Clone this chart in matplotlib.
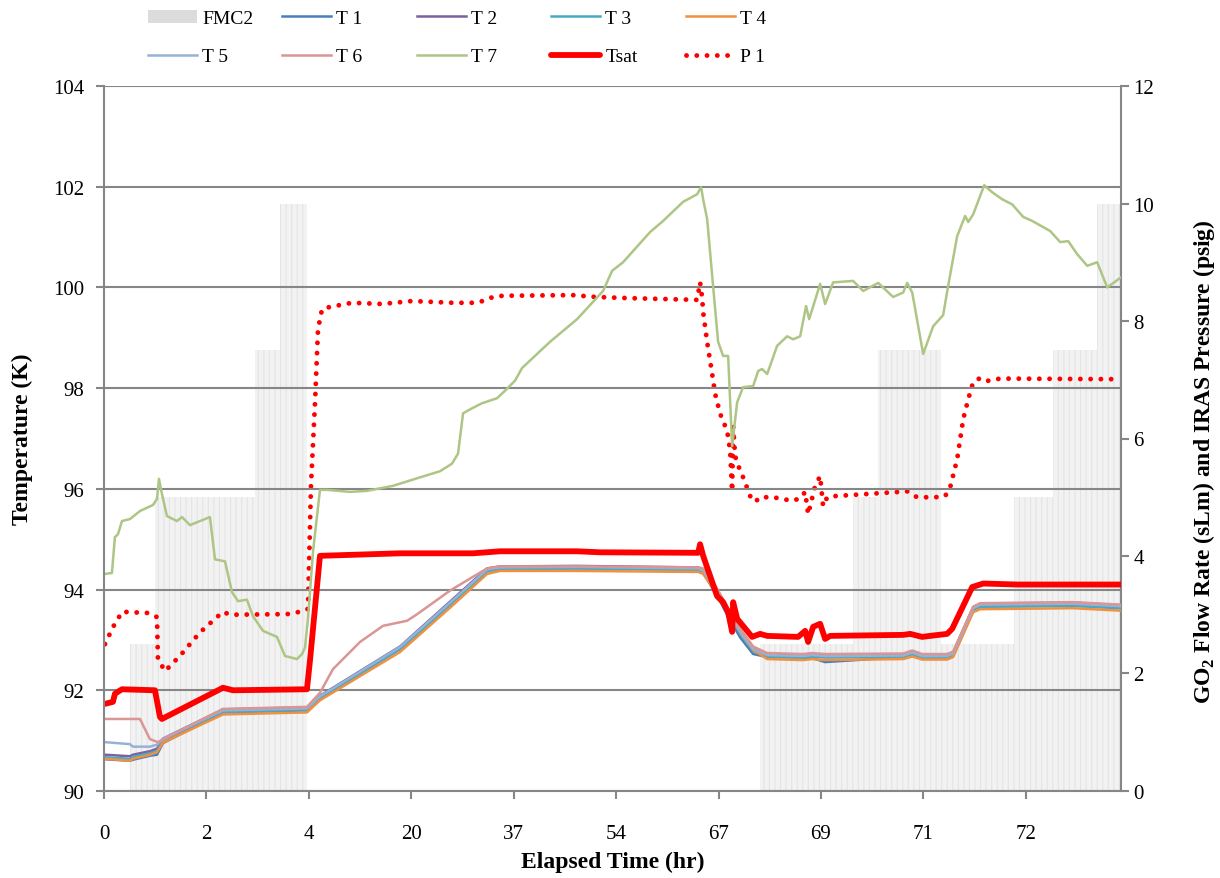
import matplotlib
matplotlib.use('Agg')
import matplotlib.pyplot as plt
from matplotlib.patches import Patch

plt.rcParams['font.family'] = ['Liberation Serif', 'DejaVu Serif']
plt.rcParams['mathtext.fontset'] = 'custom'
plt.rcParams['mathtext.rm'] = 'Liberation Serif'
plt.rcParams['mathtext.bf'] = 'Liberation Serif:bold'
plt.rcParams['hatch.linewidth'] = 0.8
plt.rcParams['hatch.color'] = '#e4e4e4'
plt.rcParams['xtick.major.pad'] = 18
plt.rcParams['ytick.major.pad'] = 8

# category axis: one unit per labelled row
tick_labels = ['0', '2', '4', '20', '37', '54', '67', '69', '71', '72']

# FMC2 flow steps (sLm)
fmc_start = [0.254, 0.498, 1.475, 1.719, 6.406, 7.314, 7.559, 8.174, 8.887, 9.268, 9.697]
fmc_end = [0.498, 1.475, 1.719, 1.982, 7.314, 7.559, 8.174, 8.887, 9.268, 9.697, 9.922]
fmc_level = [2.5, 5, 7.5, 10, 2.5, 5, 7.5, 2.5, 5, 7.5, 10]

# T1..T5 share one time base
x_bundle = [0.01, 0.254, 0.283, 0.449, 0.518, 0.576, 1.162, 1.982, 2.109, 2.891, 3.379,
            3.74, 3.867, 4.619, 5.801, 5.85, 5.986, 6.084, 6.211, 6.338, 6.475, 6.826,
            6.914, 7.041, 7.803, 7.891, 7.988, 8.232, 8.291, 8.486, 8.555, 9.463, 9.93]
T1 = [90.63, 90.6, 90.62, 90.7, 90.72, 90.95, 91.56, 91.6, 91.84, 92.82, 93.7,
      94.37, 94.41, 94.42, 94.4, 94.33, 93.88, 93.5, 93.05, 92.72, 92.66, 92.65,
      92.64, 92.56, 92.66, 92.72, 92.65, 92.65, 92.7, 93.6, 93.66, 93.68, 93.63]
T2 = [90.72, 90.69, 90.72, 90.79, 90.84, 91.04, 91.62, 91.66, 91.89, 92.87, 93.76,
      94.42, 94.46, 94.47, 94.44, 94.4, 94.0, 93.65, 93.2, 92.85, 92.72, 92.7,
      92.72, 92.7, 92.71, 92.77, 92.7, 92.7, 92.75, 93.65, 93.72, 93.74, 93.69]
T3 = [90.67, 90.64, 90.68, 90.75, 90.8, 91.0, 91.57, 91.61, 91.85, 92.82, 93.7,
      94.36, 94.41, 94.42, 94.39, 94.35, 93.95, 93.58, 93.13, 92.78, 92.67, 92.65,
      92.67, 92.65, 92.66, 92.72, 92.65, 92.65, 92.7, 93.6, 93.66, 93.68, 93.63]
T4 = [90.64, 90.6, 90.64, 90.72, 90.77, 90.96, 91.52, 91.56, 91.8, 92.76, 93.64,
      94.31, 94.37, 94.37, 94.35, 94.31, 93.92, 93.58, 93.16, 92.8, 92.62, 92.6,
      92.62, 92.6, 92.62, 92.67, 92.61, 92.61, 92.66, 93.55, 93.61, 93.63, 93.58]
T5 = [90.97, 90.93, 90.88, 90.88, 90.92, 91.04, 91.6, 91.64, 91.88, 92.86, 93.74,
      94.4, 94.44, 94.45, 94.42, 94.38, 93.98, 93.62, 93.17, 92.82, 92.7, 92.68,
      92.7, 92.68, 92.69, 92.75, 92.68, 92.68, 92.73, 93.63, 93.7, 93.72, 93.67]

x_t6 = [0.01, 0.352, 0.4, 0.449, 0.527, 0.576, 1.162, 1.982, 2.109, 2.236, 2.334, 2.5,
        2.725, 2.959, 3.057, 3.379, 3.74, 3.867, 4.619, 5.801, 5.85, 5.986, 6.084,
        6.211, 6.338, 6.475, 6.826, 6.914, 7.041, 7.803, 7.891, 7.988, 8.232, 8.291,
        8.486, 8.555, 9.463, 9.93]
T6 = [91.43, 91.43, 91.23, 91.03, 90.97, 91.02, 91.63, 91.67, 91.95, 92.42, 92.62, 92.96,
      93.28, 93.38, 93.51, 93.98, 94.42, 94.46, 94.46, 94.44, 94.42, 94.02, 93.66,
      93.22, 92.87, 92.74, 92.72, 92.74, 92.72, 92.73, 92.79, 92.72, 92.72, 92.77,
      93.66, 93.73, 93.75, 93.7]

x_t7 = [0.01, 0.078, 0.107, 0.137, 0.176, 0.254, 0.352, 0.479, 0.518, 0.537, 0.566,
        0.615, 0.713, 0.762, 0.84, 1.035, 1.084, 1.182, 1.25, 1.309, 1.396, 1.455,
        1.553, 1.689, 1.768, 1.885, 1.934, 1.963, 1.992, 2.041, 2.109, 2.178, 2.402,
        2.568, 2.822, 3.057, 3.281, 3.398, 3.457, 3.506, 3.594, 3.691, 3.838, 3.916,
        4.014, 4.082, 4.355, 4.619, 4.873, 4.961, 5.068, 5.332, 5.459, 5.654, 5.791,
        5.83, 5.85, 5.889, 5.947, 5.996, 6.045, 6.094, 6.133, 6.182, 6.24, 6.338,
        6.387, 6.426, 6.475, 6.572, 6.67, 6.729, 6.797, 6.855, 6.885, 6.992, 7.041,
        7.119, 7.314, 7.412, 7.559, 7.705, 7.803, 7.842, 7.891, 7.998, 8.096, 8.193,
        8.242, 8.33, 8.408, 8.438, 8.486, 8.594, 8.672, 8.77, 8.867, 8.975, 9.063,
        9.238, 9.336, 9.414, 9.502, 9.6, 9.697, 9.795, 9.93]
T7 = [94.31, 94.33, 95.04, 95.1, 95.36, 95.4, 95.56, 95.68, 95.8, 96.2, 95.9,
      95.46, 95.36, 95.44, 95.28, 95.44, 94.6, 94.56, 93.95, 93.77, 93.8, 93.47,
      93.18, 93.06, 92.68, 92.62, 92.72, 92.85, 93.42, 94.75, 95.98, 95.98, 95.94,
      95.96, 96.06, 96.21, 96.35, 96.5, 96.7, 97.5, 97.6, 97.7, 97.8, 97.95,
      98.15, 98.4, 98.92, 99.37, 99.93, 100.33, 100.5, 101.1, 101.32, 101.7, 101.85,
      101.99, 101.75, 101.36, 100.03, 98.92, 98.64, 98.64, 96.85, 97.72, 98.02, 98.04,
      98.34, 98.38, 98.28, 98.84, 99.03, 98.97, 99.03, 99.63, 99.37, 100.07, 99.67,
      100.1, 100.13, 99.93, 100.09, 99.81, 99.9, 100.09, 99.9, 98.68, 99.23, 99.45,
      100.03, 101.02, 101.42, 101.3, 101.45, 102.03, 101.89, 101.75, 101.65, 101.4, 101.32,
      101.12, 100.9, 100.92, 100.66, 100.43, 100.5, 100.0, 100.2]

x_tsat = [0.01, 0.088, 0.107, 0.137, 0.176, 0.498, 0.547, 0.566, 1.162, 1.26, 1.982,
          2.012, 2.109, 2.891, 3.604, 3.867, 4.619, 4.844, 5.801, 5.82, 5.85, 5.986,
          6.045, 6.094, 6.133, 6.143, 6.182, 6.328, 6.406, 6.475, 6.777, 6.846, 6.875,
          6.924, 6.992, 7.041, 7.09, 7.803, 7.871, 7.988, 8.066, 8.232, 8.281, 8.477,
          8.584, 8.916, 9.93]
Tsat = [91.73, 91.77, 91.93, 91.97, 92.02, 92.0, 91.47, 91.43, 92.05, 92.0, 92.02,
        92.6, 94.67, 94.72, 94.72, 94.76, 94.76, 94.74, 94.73, 94.9, 94.67, 93.87,
        93.75, 93.55, 93.16, 93.75, 93.42, 93.06, 93.12, 93.08, 93.06, 93.18, 92.96,
        93.26, 93.32, 93.02, 93.08, 93.1, 93.12, 93.06, 93.08, 93.12, 93.22, 94.05,
        94.12, 94.1, 94.1]

# IRAS pressure P 1 (psig)
x_p1 = [0.01, 0.088, 0.137, 0.176, 0.43, 0.518, 0.527, 0.596, 0.742, 0.938, 1.084,
        1.162, 1.23, 1.787, 1.943, 1.992, 2.021, 2.061, 2.09, 2.109, 2.129, 2.207,
        2.422, 2.715, 3.008, 3.408, 3.604, 3.701, 3.799, 3.896, 4.58, 4.795, 5.107,
        5.791, 5.82, 5.84, 5.85, 5.889, 5.938, 5.967, 6.016, 6.084, 6.113, 6.133,
        6.143, 6.162, 6.211, 6.24, 6.309, 6.357, 6.406, 6.533, 6.719, 6.797, 6.846,
        6.875, 6.943, 6.992, 7.021, 7.061, 7.139, 7.842, 7.939, 8.115, 8.213, 8.262,
        8.33, 8.389, 8.438, 8.486, 8.555, 8.623, 8.75, 9.854, 9.93]
P1 = [2.5, 2.79, 2.93, 3.05, 3.03, 2.96, 2.25, 2.04, 2.3, 2.7, 2.93,
      3.05, 3.0, 3.01, 3.06, 3.1, 5.19, 6.62, 7.86, 8.03, 8.2, 8.24,
      8.31, 8.29, 8.34, 8.31, 8.31, 8.34, 8.41, 8.43, 8.44, 8.41, 8.39,
      8.36, 8.66, 8.4, 8.15, 7.64, 7.1, 6.76, 6.42, 6.13, 5.8, 5.1,
      6.21, 5.7, 5.45, 5.34, 5.02, 4.92, 5.0, 5.0, 4.94, 4.98, 5.09,
      4.71, 5.19, 5.36, 4.85, 5.0, 5.02, 5.1, 5.0, 5.0, 5.02, 5.17,
      5.65, 6.33, 6.67, 6.96, 7.03, 6.98, 7.02, 7.01, 7.01]

grey = '#868686'

fig = plt.figure(figsize=(12.2, 8.79), dpi=100)
ax = fig.add_axes([0.0852, 0.0990, 0.8337, 0.8020])
ax2 = ax.twinx()
ax.set_zorder(ax2.get_zorder() + 1)
ax.patch.set_visible(False)

# flow rate bars + pressure on the secondary axis
ax2.bar(fmc_start, fmc_level, width=[e - s for s, e in zip(fmc_start, fmc_end)],
        align='edge', color='#f2f2f2', edgecolor='#e4e4e4', hatch='|||', linewidth=0)
h_p1, = ax2.plot(x_p1, P1, color='#ff0000', lw=3.5, linestyle=(0, (0.01, 2.1)),
                 dash_capstyle='round')

h_t1, = ax.plot(x_bundle, T1, color='#4a7ebb', lw=1.8)
h_t2, = ax.plot(x_bundle, T2, color='#7d60a0', lw=1.8)
h_t3, = ax.plot(x_bundle, T3, color='#46aac5', lw=1.8)
h_t4, = ax.plot(x_bundle, T4, color='#f09040', lw=1.8)
h_t5, = ax.plot(x_bundle, T5, color='#95b3d7', lw=1.8)
h_t6, = ax.plot(x_t6, T6, color='#d99694', lw=1.8)
h_t7, = ax.plot(x_t7, T7, color='#adc585', lw=1.8)
h_tsat, = ax.plot(x_tsat, Tsat, color='#ff0000', lw=4.2, solid_capstyle='round')

ax.set_xlim(0, 9.93)
ax.set_ylim(90, 104)
ax.set_yticks(range(90, 105, 2))
ax.set_xticks(range(len(tick_labels)))
ax.set_xticklabels(tick_labels)
ax2.set_ylim(0, 12)
ax2.set_yticks(range(0, 13, 2))

ax.yaxis.grid(True, color=grey, lw=1.5)
ax.set_axisbelow(True)

for s in ['top', 'right']:
    ax.spines[s].set_visible(False)
for s in ['left', 'bottom']:
    ax.spines[s].set_color(grey)
    ax.spines[s].set_linewidth(1.5)
for s in ['top', 'left', 'bottom']:
    ax2.spines[s].set_visible(False)
ax2.spines['right'].set_color(grey)
ax2.spines['right'].set_linewidth(1.5)

ax.tick_params(axis='both', direction='out', length=6, width=1.5, color=grey, labelsize=15)
ax.tick_params(axis='x', pad=18)
ax2.tick_params(axis='y', direction='out', length=6, width=1.5, color=grey, labelsize=15, pad=3)

ax.set_xlabel('Elapsed Time (hr)', fontsize=17, fontweight='bold', va='center')
ax.xaxis.set_label_coords(0.5, -0.1)
ax.set_ylabel('Temperature (K)', fontsize=17, fontweight='bold', va='center')
ax.yaxis.set_label_coords(-0.0806, 0.5)
ax2.set_ylabel(r'GO$_\mathbf{2}$ Flow Rate (sLm) and IRAS Pressure (psig)',
               fontsize=17, fontweight='bold', va='center', rotation=90)
ax2.yaxis.set_label_coords(1.0816, 0.468)

# legend: five columns of two entries across the top
h_fmc = Patch(facecolor='#dcdcdc', edgecolor='none')
legend_cols = [
    ([h_fmc, h_t5], ['FMC2', 'T 5']),
    ([h_t1, h_t6], ['T 1', 'T 6']),
    ([h_t2, h_t7], ['T 2', 'T 7']),
    ([h_t3, h_tsat], ['T 3', 'Tsat']),
    ([h_t4, h_p1], ['T 4', 'P 1']),
]
col_x = [148, 282, 417, 551, 686]
for (hs, ls), px in zip(legend_cols, col_x):
    fig.legend(hs, ls, loc='center left', bbox_to_anchor=(px / 1220, 1 - 38.5 / 879),
               frameon=False, fontsize=14, handlelength=2.5, handletextpad=0.3,
               labelspacing=1.05, borderpad=0, borderaxespad=0)

fig.savefig('out.png', dpi=100)
